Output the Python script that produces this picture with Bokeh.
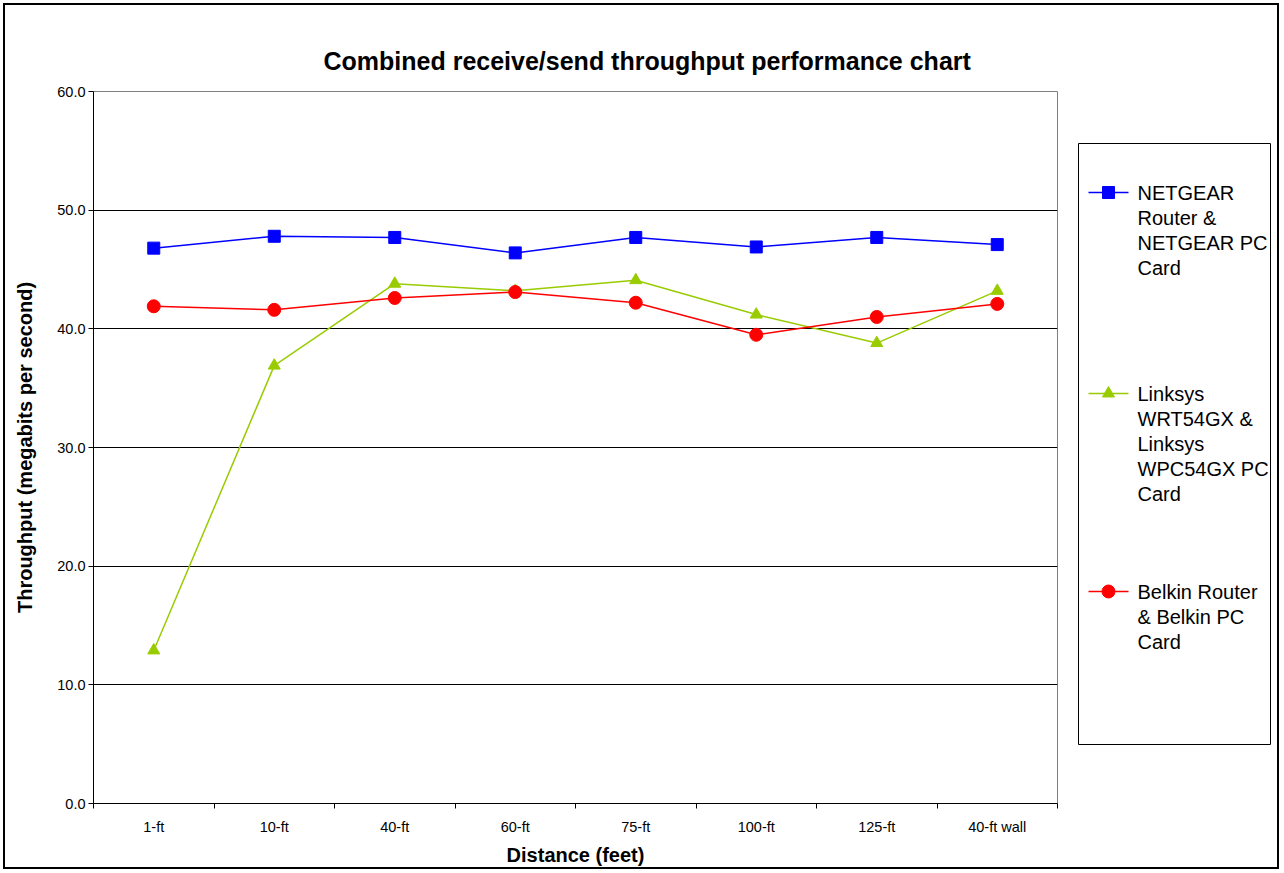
from bokeh.plotting import figure
from bokeh.models import FixedTicker, Range1d, ColumnDataSource
from bokeh.layouts import row
from bokeh.embed import file_html
from bokeh.resources import INLINE
from bokeh.core.properties import value

categories = ["1-ft", "10-ft", "40-ft", "60-ft", "75-ft", "100-ft", "125-ft", "40-ft wall"]
netgear = [46.8, 47.8, 47.7, 46.4, 47.7, 46.9, 47.7, 47.1]
linksys = [12.9, 36.9, 43.8, 43.2, 44.1, 41.2, 38.8, 43.2]
belkin = [41.9, 41.6, 42.6, 43.1, 42.2, 39.5, 41.0, 42.1]

series_names = ["NETGEAR Router & NETGEAR PC Card",
                "Linksys WRT54GX & Linksys WPC54GX PC Card",
                "Belkin Router & Belkin PC Card"]
legend_labels = ["NETGEAR\nRouter &\nNETGEAR PC\nCard",
                 "Linksys\nWRT54GX &\nLinksys\nWPC54GX PC\nCard",
                 "Belkin Router\n& Belkin PC\nCard"]
colors = ["#0000FF", "#99CC00", "#FF0000"]
markers = ["square", "triangle", "circle"]
marker_sizes = [12, 12, 13]
y_ticks = [0, 10, 20, 30, 40, 50, 60]

FONT = "Liberation Sans"
xs = list(range(len(categories)))

p = figure(width=1076, height=872, output_backend="svg", toolbar_location=None,
           x_range=Range1d(-0.5, len(categories) - 0.5), y_range=Range1d(0, 60),
           min_border_left=93, min_border_right=19, min_border_top=91, min_border_bottom=69,
           title="Combined receive/send throughput performance chart",
           border_fill_color=None)
p.title.text_font = FONT
p.title.text_font_size = "25px"
p.title.text_font_style = "bold"
p.title.text_color = "black"
p.title.align = "left"
p.title.offset = 230
p.title.standoff = 34
p.outline_line_color = "#808080"
p.outline_line_width = 1

p.xgrid.visible = False
p.ygrid.grid_line_color = "black"
p.ygrid.grid_line_width = 1
p.yaxis.ticker = FixedTicker(ticks=y_ticks)
p.yaxis.major_label_overrides = {t: f"{t:.1f}" for t in y_ticks}
p.yaxis.minor_tick_line_color = None
p.yaxis.major_tick_out = 5
p.yaxis.major_tick_in = 0
p.yaxis.major_label_standoff = 3
p.yaxis.axis_label = "Throughput (megabits per second)"
p.yaxis.axis_label_standoff = 18

p.xaxis.ticker = FixedTicker(ticks=xs, minor_ticks=[i - 0.5 for i in range(len(categories) + 1)])
p.xaxis.major_label_overrides = {i: c for i, c in enumerate(categories)}
p.xaxis.major_tick_out = 0
p.xaxis.major_tick_in = 0
p.xaxis.minor_tick_out = 5
p.xaxis.minor_tick_in = 0
p.xaxis.minor_tick_line_color = "black"
p.xaxis.major_label_standoff = 10
p.xaxis.axis_label = "Distance (feet)"
p.xaxis.axis_label_standoff = 6

for ax in (p.xaxis, p.yaxis):
    ax.axis_line_color = "black"
    ax.major_tick_line_color = "black"
    ax.major_label_text_font = FONT
    ax.major_label_text_font_size = "14.5px"
    ax.major_label_text_color = "black"
    ax.axis_label_text_font = FONT
    ax.axis_label_text_font_size = "20px"
    ax.axis_label_text_font_style = "bold"
    ax.axis_label_text_color = "black"

for vals, col, mk, ms, name in zip([netgear, linksys, belkin], colors, markers, marker_sizes, series_names):
    src = ColumnDataSource(dict(x=xs, y=vals))
    p.line("x", "y", source=src, line_color=col, line_width=1.5)
    p.scatter("x", "y", source=src, marker=mk, size=ms, fill_color=col, line_color=col)

# legend panel (frame aligned with main frame; box drawn inside)
lg = figure(width=206, height=872, output_backend="svg", toolbar_location=None,
            x_range=Range1d(-2, 194), y_range=Range1d(712, 0),
            min_border_left=0, min_border_right=10, min_border_top=91, min_border_bottom=69,
            x_axis_location=None, y_axis_location=None, border_fill_color=None)
lg.grid.visible = False
lg.outline_line_color = None
lg.quad(left=[0], right=[192], top=[52], bottom=[653], fill_color="white",
        line_color="black", line_width=1)
item_y = [101, 302, 500]
lsrc = ColumnDataSource(dict(x0=[10] * 3, x1=[50] * 3, xm=[30] * 3, y=item_y, color=colors,
                             marker=markers, size=marker_sizes,
                             tx=[59] * 3, ty=[y - 11 for y in item_y], label=legend_labels))
lg.segment("x0", "y", "x1", "y", source=lsrc, line_color="color", line_width=1.5)
lg.scatter("xm", "y", source=lsrc, marker="marker", size="size", fill_color="color", line_color="color")
lg.text("tx", "ty", text="label", source=lsrc, text_font=value(FONT), text_font_size="20px",
        text_baseline="top", text_align="left", text_line_height=1.14, text_color="black")

layout = row(p, lg, spacing=0, styles={"outline": "2px solid black", "outline-offset": "-5px"})
open("out.html", "w").write(file_html(layout, INLINE))
